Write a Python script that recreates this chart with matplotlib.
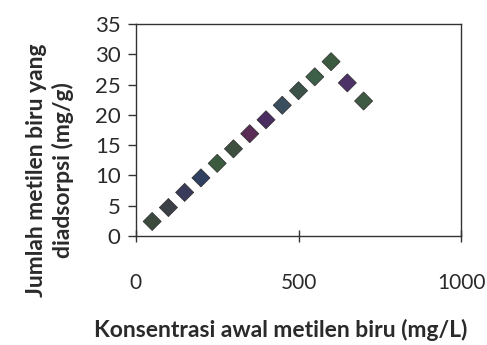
import matplotlib
matplotlib.use("Agg")
import matplotlib.pyplot as plt

# data
konsentrasi = [50, 100, 150, 200, 250, 300, 350, 400, 450, 500, 550, 600, 650, 700]
teradsorpsi = [2.4, 4.7, 7.2, 9.6, 12.0, 14.4, 16.9, 19.2, 21.6, 24.0, 26.3, 28.8, 25.3, 22.3]
warna = ['#3b4a3c', '#3d3f48', '#3a3a5a', '#2f4060', '#3c5a3e', '#3d5040',
         '#5a2c55', '#4a2e62', '#3a4e5e', '#3c5248', '#3d6048', '#3c5a40',
         '#4c3266', '#3e5a42']

plt.rcParams['font.family'] = ['Lato', 'DejaVu Sans']

fig = plt.figure(figsize=(4.87, 3.45), dpi=100)
ax = fig.add_axes([0.279, 0.316, 0.668, 0.614])

ax.scatter(konsentrasi, teradsorpsi, marker='D', s=85, c=warna, edgecolors='#2a2a2a',
           linewidths=0.5, zorder=3)

ax.set_xlim(0, 1000)
ax.set_ylim(0, 35)
ax.set_xticks([0, 500, 1000])
ax.set_yticks(range(0, 36, 5))

for s in ax.spines.values():
    s.set_color('#333333')
    s.set_linewidth(1.0)

ax.tick_params(axis='y', direction='out', length=6, width=1, pad=5, labelsize=16, colors='#333333')
ax.tick_params(axis='x', direction='inout', length=8, width=1, pad=23, labelsize=15, colors='#333333')
for lbl in ax.get_xticklabels() + ax.get_yticklabels():
    lbl.set_color('#2a2a2a')

fig.text(281 / 487, 1 - 330 / 345, 'Konsentrasi awal metilen biru (mg/L)', fontsize=16.5,
         fontweight='bold', color='#2a2a2a', ha='center', va='center')
fig.text(50 / 487, 1 - 170 / 345, 'Jumlah metilen biru yang\ndiadsorpsi (mg/g)', fontsize=16.5,
         fontweight='bold', color='#2a2a2a', ha='center', va='center', rotation=90,
         linespacing=1.25, multialignment='center')

fig.savefig('out.png', dpi=100)
